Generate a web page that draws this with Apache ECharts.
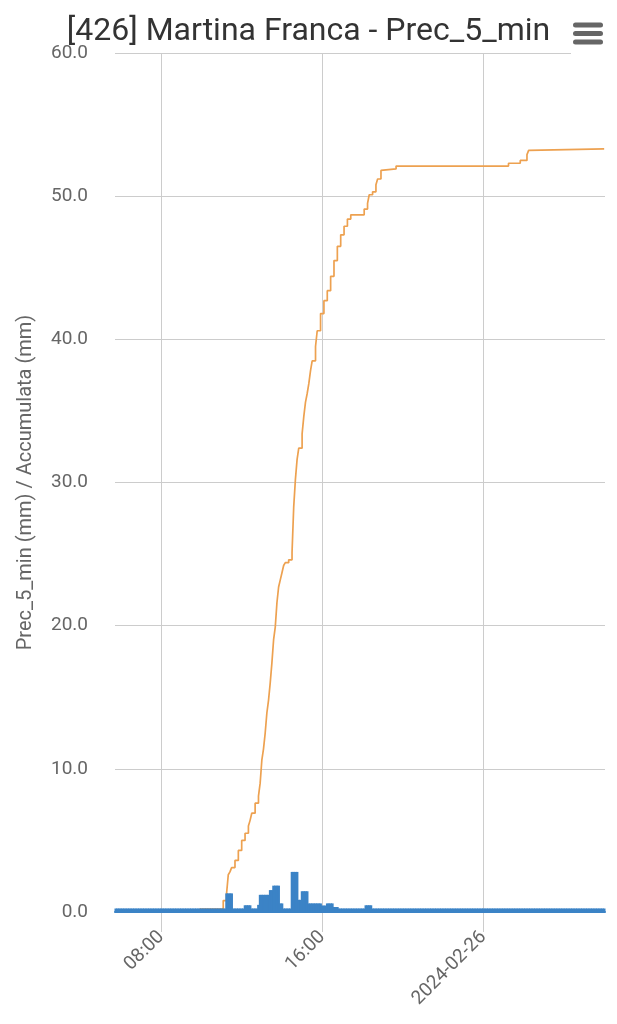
<!DOCTYPE html>
<html>
<head>
<meta charset="utf-8">
<script src="https://cdn.jsdelivr.net/npm/echarts@6/dist/echarts.min.js"></script>
<style>
html,body{margin:0;padding:0;background:#fff;}
#chart{width:617px;height:1024px;}
</style>
</head>
<body>
<div id="chart"></div>
<script>
const titleText = '[426] Martina Franca - Prec_5_min';
const yAxisName = 'Prec_5_min (mm) / Accumulata (mm)';
const seriesStart = '2024-02-25T05:45:00Z';
const stepMinutes = 5;

// 5-minute precipitation (mm); one row = one hour, first value at 05:45
const prec5min = [
  0,0,0,0,0,0,0,0,0,0,0,0,
  0,0,0,0,0,0,0,0,0,0,0,0,
  0,0,0,0,0,0,0,0,0,0,0,0,
  0,0,0,0,0,0,0,0,0,0,0,0,
  0,0,0,0,0,0,0,0,0,0,0,0,
  0,0,0,0,0,0,1.3,1.3,1.3,1.3,0,0,
  0,0,0,0,0,0.47,0.47,0.47,0.47,0,0,0,
  0.2,0.5,1.2,1.2,1.2,1.2,1.2,1.2,1.53,1.53,1.84,1.84,
  1.84,1.84,0.6,0.6,0.2,0,0,0,0,2.8,2.8,2.8,
  2.8,0.85,0.85,1.45,1.45,1.45,1.45,0.6,0.6,0.6,0.6,0.6,
  0.6,0.6,0.6,0.45,0.45,0.45,0.6,0.6,0.6,0.6,0.35,0.35,
  0.35,0,0,0,0,0,0,0,0,0,0,0,
  0,0,0,0,0,0.47,0.47,0.47,0.47,0,0,0,
  0,0,0,0,0,0,0,0,0,0,0,0,
  0,0,0,0,0,0,0,0,0,0,0,0,
  0,0,0,0,0,0,0,0,0,0,0,0,
  0,0,0,0,0,0,0,0,0,0,0,0,
  0,0,0,0,0,0,0,0,0,0,0,0,
  0,0,0,0,0,0,0,0,0,0,0,0,
  0,0,0,0,0,0,0,0,0,0,0,0,
  0,0,0,0,0,0,0,0,0,0,0,0,
  0,0,0,0,0,0,0,0,0,0,0,0,
  0,0,0,0,0,0,0,0,0,0,0,0,
  0,0,0,0,0,0,0,0,0,0,0,0,
  0,0,0,0
];

// accumulated precipitation (mm): times where the value changes
const accTimes = [
  '2024-02-25T05:45','2024-02-25T09:55','2024-02-25T11:05','2024-02-25T11:15','2024-02-25T11:20',
  '2024-02-25T11:25','2024-02-25T11:30','2024-02-25T11:40','2024-02-25T11:50','2024-02-25T12:00',
  '2024-02-25T12:10','2024-02-25T12:20','2024-02-25T12:25','2024-02-25T12:30','2024-02-25T12:40',
  '2024-02-25T12:50','2024-02-25T12:55','2024-02-25T13:00','2024-02-25T13:05','2024-02-25T13:10',
  '2024-02-25T13:15','2024-02-25T13:20','2024-02-25T13:25','2024-02-25T13:30','2024-02-25T13:35',
  '2024-02-25T13:40','2024-02-25T13:45','2024-02-25T13:50','2024-02-25T13:55','2024-02-25T14:00',
  '2024-02-25T14:05','2024-02-25T14:10','2024-02-25T14:20','2024-02-25T14:30','2024-02-25T14:35',
  '2024-02-25T14:40','2024-02-25T14:45','2024-02-25T14:50','2024-02-25T15:00','2024-02-25T15:05',
  '2024-02-25T15:10','2024-02-25T15:15','2024-02-25T15:20','2024-02-25T15:25','2024-02-25T15:30',
  '2024-02-25T15:40','2024-02-25T15:45','2024-02-25T15:55','2024-02-25T16:05','2024-02-25T16:15',
  '2024-02-25T16:25','2024-02-25T16:35','2024-02-25T16:45','2024-02-25T16:55','2024-02-25T17:05',
  '2024-02-25T17:15','2024-02-25T17:25','2024-02-25T18:05','2024-02-25T18:15','2024-02-25T18:20',
  '2024-02-25T18:30','2024-02-25T18:40','2024-02-25T18:45','2024-02-25T18:55','2024-02-25T19:00',
  '2024-02-25T19:40','2024-02-26T01:15','2024-02-26T01:50','2024-02-26T02:10','2024-02-26T02:15',
  '2024-02-26T02:20','2024-02-26T06:00'
];
const accValues = [
  0,0.2,0.8,1.3,2.6,
  2.8,3.1,3.6,4.3,5.0,
  5.5,6.0,6.4,6.9,7.6,
  8.1,9.0,10.6,11.4,12.5,
  13.9,14.8,16.0,17.4,19.0,
  19.9,21.6,22.7,23.2,23.7,
  24.2,24.4,24.6,25.1,28.3,
  30.2,31.6,32.4,33.4,34.6,
  35.6,36.2,36.9,37.8,38.5,
  39.5,40.6,41.8,42.7,43.4,
  44.4,45.5,46.5,47.3,47.9,
  48.4,48.7,49.1,49.5,50.1,
  50.3,50.8,51.2,51.8,51.9,
  52.1,52.3,52.5,52.9,53.2,
  53.3,53.3
];

const xTickTimes = ['2024-02-25T08:00','2024-02-25T16:00','2024-02-26T00:00'];
const yMin = 0, yMax = 60, yInterval = 10;

function ts(s){ return Date.parse(s.length === 16 ? s + ':00Z' : s); }
const pad = n => String(n).padStart(2,'0');

const t0 = ts(seriesStart);
const stepMs = stepMinutes * 60000;
const barData = prec5min.map((v,i) => [t0 + i*stepMs, v]);
const lineData = accTimes.map((t,i) => [ts(t), accValues[i]]);
const tEnd = t0 + (prec5min.length - 1) * stepMs;
const xTicks = xTickTimes.map(ts);
const xMin = t0 - stepMs/2, xMax = tEnd + stepMs/2;

const chart = echarts.init(document.getElementById('chart'), null, {renderer:'canvas'});
chart.setOption({
  animation: false,
  backgroundColor: '#ffffff',
  textStyle: { fontFamily: 'Roboto' },
  title: {
    text: titleText,
    left: 'center',
    top: 11,
    textStyle: { fontSize: 32, fontWeight: 'normal', color: '#333333', fontFamily: 'Roboto' }
  },
  grid: { left: 115, right: 12, top: 53, bottom: 112, containLabel: false, outerBoundsMode: 'none' },
  xAxis: [
    {
      type: 'value',
      min: xMin,
      max: xMax,
      axisLine: { show: true, lineStyle: { color: '#ccd6eb', width: 1 } },
      axisTick: { show: true, length: 20, lineStyle: { color: '#cccccc' }, customValues: xTicks },
      axisLabel: {
        customValues: xTicks,
        rotate: 45,
        margin: 22,
        fontSize: 19,
        color: '#666666',
        fontFamily: 'Roboto',
        formatter: function (v) {
          const d = new Date(v);
          if (d.getUTCHours() === 0 && d.getUTCMinutes() === 0) {
            return d.getUTCFullYear() + '-' + pad(d.getUTCMonth()+1) + '-' + pad(d.getUTCDate());
          }
          return pad(d.getUTCHours()) + ':' + pad(d.getUTCMinutes());
        }
      },
      splitLine: { show: true, lineStyle: { color: '#cccccc', width: 1 } }
    },
    {
      type: 'value',
      position: 'bottom',
      offset: 0,
      min: xMin,
      max: xMax,
      z: 5,
      axisLine: { show: true, lineStyle: { color: '#3b83c6', width: 2 } },
      axisTick: { show: false },
      axisLabel: { show: false },
      splitLine: { show: false }
    }
  ],
  yAxis: {
    type: 'value',
    min: yMin, max: yMax, interval: yInterval,
    name: yAxisName,
    nameLocation: 'middle',
    nameGap: 79,
    nameTextStyle: { fontSize: 20, color: '#666666', fontFamily: 'Roboto' },
    axisLine: { show: false },
    axisTick: { show: false },
    axisLabel: { fontSize: 19, color: '#666666', margin: 27, fontFamily: 'Roboto', formatter: v => v.toFixed(1) },
    splitLine: { show: true, lineStyle: { color: '#cccccc', width: 1 } }
  },
  series: [
    {
      name: 'Accumulata',
      type: 'line',
      step: 'end',
      data: lineData,
      showSymbol: false,
      symbol: 'none',
      z: 2,
      lineStyle: { color: '#eda150', width: 1.7 },
      itemStyle: { color: '#eda150' }
    },
    {
      name: 'Prec_5_min',
      type: 'bar',
      data: barData,
      barWidth: '160%',
      barGap: '-100%',
      barMinHeight: 3.5,
      z: 3,
      itemStyle: { color: '#3b83c6' }
    }
  ],
  graphic: [
    { type: 'rect', z: 100, shape: { x: 571, y: 12, width: 46, height: 44 }, style: { fill: '#ffffff' } },
    { type: 'rect', z: 101, shape: { x: 573, y: 22.5, width: 30, height: 5, r: 2.5 }, style: { fill: '#666666' } },
    { type: 'rect', z: 101, shape: { x: 573, y: 31, width: 30, height: 5, r: 2.5 }, style: { fill: '#666666' } },
    { type: 'rect', z: 101, shape: { x: 573, y: 39.5, width: 30, height: 5, r: 2.5 }, style: { fill: '#666666' } }
  ]
});
</script>
</body>
</html>
